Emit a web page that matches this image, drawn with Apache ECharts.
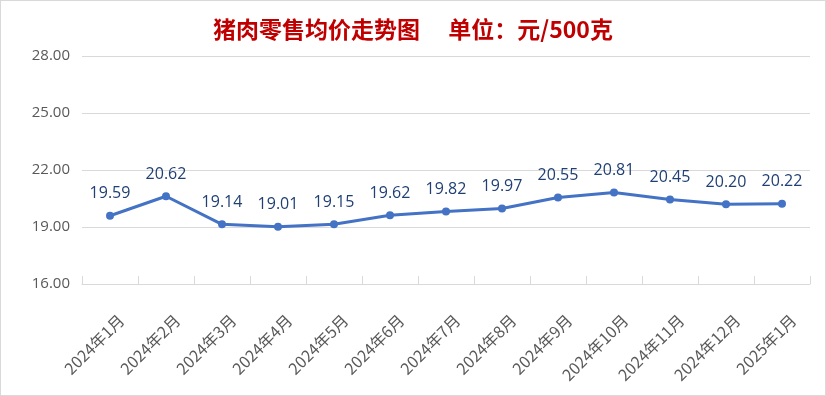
<!DOCTYPE html>
<html><head><meta charset="utf-8">
<script src="https://cdn.jsdelivr.net/npm/echarts@6/dist/echarts.min.js"></script>
<style>html,body{margin:0;padding:0;background:#fff}#c{width:826px;height:396px;box-sizing:border-box;border:1px solid #D9D9D9}</style>
</head><body><div id="c"></div>
<script>
var categories = ['2024年1月','2024年2月','2024年3月','2024年4月','2024年5月','2024年6月','2024年7月','2024年8月','2024年9月','2024年10月','2024年11月','2024年12月','2025年1月'];
var prices = [19.59,20.62,19.14,19.01,19.15,19.62,19.82,19.97,20.55,20.81,20.45,20.20,20.22];
var titleText = '猪肉零售均价走势图　 单位：元/500克';
var chart = echarts.init(document.getElementById('c'));
chart.setOption({
  animation:false,
  title:{text:titleText,left:'center',top:12,textStyle:{color:'#C00000',fontSize:23,fontWeight:'bold',fontFamily:'Noto Sans CJK SC'}},
  grid:{left:81,right:15,top:55,bottom:111},
  xAxis:{type:'category',data:categories,boundaryGap:true,
    axisLine:{lineStyle:{color:'#D9D9D9',width:1}},
    axisTick:{show:true,inside:true,length:8,lineStyle:{color:'#D9D9D9'}},
    axisLabel:{rotate:45,color:'#595959',fontSize:16,fontFamily:'Noto Sans CJK SC',margin:22,verticalAlign:'top',lineHeight:32,interval:0}},
  yAxis:{type:'value',min:16,max:28,interval:3,
    axisLine:{show:false},axisTick:{show:false},
    splitLine:{lineStyle:{color:'#D9D9D9',width:1}},
    axisLabel:{color:'#595959',fontSize:15,fontFamily:'Open Sans',margin:12,formatter:function(v){return v.toFixed(2);}}},
  series:[{type:'line',data:prices,symbol:'circle',symbolSize:8,
    lineStyle:{color:'#4472C4',width:3},itemStyle:{color:'#4472C4'},
    label:{show:true,position:'top',distance:10,color:'#1F3F75',fontSize:16,fontFamily:'Open Sans',formatter:function(p){return p.value.toFixed(2);}}}]
});
</script></body></html>
